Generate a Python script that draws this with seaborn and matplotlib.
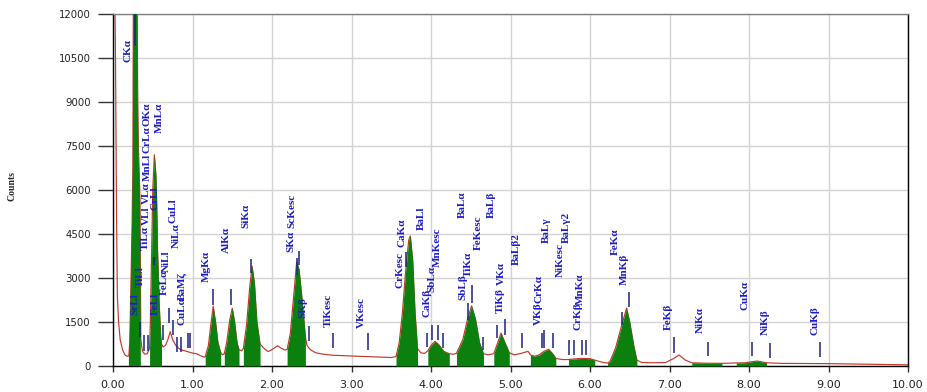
import numpy as np
import matplotlib
matplotlib.use("Agg")
import matplotlib.pyplot as plt
import seaborn as sns

# EDS spectrum: energy (keV) and counts
energy_kev = [
    0.00, 0.02, 0.03, 0.045, 0.055, 0.07, 0.09, 0.12, 0.15, 0.18,
    0.20, 0.21, 0.22, 0.23, 0.24, 0.25, 0.255, 0.26, 0.28, 0.30,
    0.305, 0.31, 0.32, 0.33, 0.34, 0.345, 0.35, 0.37, 0.40, 0.43,
    0.46, 0.47, 0.48, 0.49, 0.50, 0.52, 0.54, 0.55, 0.56, 0.58,
    0.60, 0.61, 0.63, 0.66, 0.69, 0.72, 0.75, 0.79, 0.82, 0.85,
    0.90, 0.95, 1.00, 1.05, 1.10, 1.15, 1.16, 1.20, 1.23, 1.26,
    1.29, 1.32, 1.355, 1.38, 1.40, 1.43, 1.47, 1.50, 1.53, 1.56,
    1.585, 1.62, 1.64, 1.68, 1.72, 1.75, 1.78, 1.81, 1.85, 1.90,
    1.95, 2.00, 2.07, 2.12, 2.16, 2.19, 2.23, 2.27, 2.31, 2.34,
    2.37, 2.40, 2.42, 2.44, 2.48, 2.55, 2.65, 2.75, 2.90, 3.00,
    3.20, 3.40, 3.50, 3.56, 3.60, 3.64, 3.68, 3.72, 3.74, 3.77,
    3.80, 3.83, 3.87, 3.92, 3.96, 4.00, 4.05, 4.10, 4.16, 4.23,
    4.28, 4.32, 4.40, 4.46, 4.51, 4.56, 4.61, 4.66, 4.72, 4.79,
    4.84, 4.88, 4.93, 4.985, 5.05, 5.12, 5.22, 5.25, 5.30, 5.36,
    5.42, 5.48, 5.53, 5.57, 5.65, 5.73, 5.80, 5.90, 6.00, 6.06,
    6.15, 6.22, 6.25, 6.32, 6.40, 6.46, 6.50, 6.55, 6.59, 6.65,
    6.80, 6.95, 7.05, 7.12, 7.20, 7.28, 7.45, 7.66, 7.80, 7.84,
    7.95, 8.10, 8.22, 8.40, 9.00, 9.50, 10.00,
]
counts = [
    13000, 13000, 11000, 5000, 2400, 1500, 900, 550, 380, 330,
    350, 800, 2000, 3500, 4800, 6800, 12200, 14000, 20000, 13500,
    12000, 9500, 7400, 6600, 5600, 3000, 900, 500, 400, 420,
    600, 1500, 3000, 4500, 6000, 7200, 6500, 5500, 4000, 2200,
    1000, 750, 650, 700, 900, 1170, 900, 700, 620, 560,
    520, 480, 440, 420, 350, 300, 320, 700, 1400, 2040,
    1500, 800, 450, 380, 420, 800, 1600, 1970, 1500, 800,
    550, 520, 600, 1400, 2700, 3400, 2800, 1500, 750, 600,
    490, 560, 690, 600, 545, 560, 1100, 2300, 3550, 3300,
    2500, 1600, 1000, 700, 560, 450, 400, 370, 350, 340,
    320, 300, 290, 320, 800, 1800, 3200, 4300, 4430, 3600,
    1800, 600, 450, 430, 520, 700, 840, 720, 500, 420,
    400, 430, 900, 1600, 2050, 1600, 800, 420, 380, 420,
    800, 1120, 800, 450, 380, 420, 500, 380, 330, 380,
    500, 570, 420, 260, 220, 220, 240, 260, 250, 200,
    130, 100, 150, 600, 1400, 1970, 1500, 700, 200, 120,
    110, 120, 250, 375, 200, 110, 95, 90, 100, 105,
    110, 170, 110, 90, 80, 60, 40,
]

# Integration windows (keV) shaded under the spectrum
roi_windows = [
    (0.20, 0.35), (0.46, 0.61), (1.16, 1.355), (1.40, 1.585), (1.64, 1.85),
    (2.19, 2.42), (3.56, 3.83), (3.96, 4.23), (4.32, 4.66), (4.79, 4.985),
    (5.25, 5.57), (5.73, 6.06), (6.22, 6.59), (7.28, 7.66), (7.84, 8.22),
]

# Line markers: energy (keV), lower and upper end (counts)
marker_energy = [
    0.277, 0.34, 0.39, 0.436, 0.51, 0.625, 0.705, 0.75, 0.81, 0.855,
    0.94, 0.97, 1.254, 1.487, 1.74, 2.31, 2.34, 2.46, 2.77, 3.21,
    3.69, 3.955, 4.01, 4.085, 4.145, 4.47, 4.51, 4.65, 4.83, 4.93,
    5.15, 5.40, 5.42, 5.53, 5.73, 5.80, 5.90, 5.95, 6.40, 6.49,
    7.06, 7.48, 8.04, 8.26, 8.89,
]
marker_low = [
    10900, 1000, 520, 520, 3440, 890, 1470, 1060, 490, 490,
    600, 600, 2080, 2080, 3160, 3100, 3440, 860, 600, 545,
    3390, 660, 890, 890, 610, 1570, 2150, 545, 955, 1060,
    610, 610, 610, 610, 375, 375, 375, 375, 1400, 2020,
    455, 340, 340, 275, 305,
]
marker_high = [
    12000, 1510, 1060, 1060, 3730, 1400, 1980, 1570, 1000, 1000,
    1115, 1115, 2615, 2615, 3650, 3670, 3920, 1365, 1115, 1115,
    3900, 1125, 1400, 1400, 1125, 2150, 2760, 1000, 1400, 1590,
    1125, 1125, 1230, 1125, 885, 885, 885, 885, 1850, 2530,
    980, 830, 830, 785, 830,
]

# Line identification labels: text, energy (keV), baseline (counts)
label_text = [
    "CKα", "SrLl", "TiLl", "TiLα", "VLl", "VLα", "MnLl", "CrLα", "OKα",
    "CrLl", "MnLα", "FeLl", "FeLα", "NiLl", "CuLl", "NiLα", "CuLα", "BaMζ",
    "MgKα", "AlKα", "SiKα", "SKα", "ScKesc", "SKβ", "TiKesc", "VKesc",
    "CrKesc", "CaKα", "BaLl", "CaKβ", "SbLα", "MnKesc", "SbLβ", "TiKα",
    "BaLα", "FeKesc", "BaLβ", "TiKβ", "VKα", "BaLβ2", "VKβ", "CrKα",
    "BaLγ", "NiKesc", "BaLγ2", "CrKβ", "MnKα", "FeKα", "MnKβ", "FeKβ",
    "NiKα", "CuKα", "NiKβ", "CuKβ",
]
label_energy = [
    0.192, 0.277, 0.348, 0.411, 0.415, 0.420, 0.428, 0.428, 0.428,
    0.528, 0.582, 0.537, 0.641, 0.667, 0.755, 0.801, 0.864, 0.868,
    1.179, 1.421, 1.673, 2.239, 2.245, 2.394, 2.708, 3.128,
    3.610, 3.631, 3.883, 3.945, 4.008, 4.079, 4.406, 4.469,
    4.400, 4.595, 4.764, 4.868, 4.881, 5.078, 5.349, 5.358,
    5.455, 5.623, 5.707, 5.853, 5.874, 6.314, 6.428, 6.985,
    7.393, 7.950, 8.201, 8.830,
]
label_counts = [
    10374, 1739, 2693, 3954, 4807, 5523, 6307, 7261, 8182,
    5318, 7943, 1739, 2420, 3204, 4875, 4023, 1398, 2250,
    2874, 3842, 4704, 3886, 4704, 1636, 1340, 1285,
    2659, 4057, 4636, 1681, 2533, 3385, 2250, 3044,
    5045, 3954, 5045, 1797, 2761, 3443, 1398, 2148,
    4193, 3044, 4183, 1227, 2080, 3784, 2761, 1227,
    1115, 1909, 1057, 1057,
]

x_ticks = [0, 1, 2, 3, 4, 5, 6, 7, 8, 9, 10]
x_tick_labels = ["0.00", "1.00", "2.00", "3.00", "4.00", "5.00",
                 "6.00", "7.00", "8.00", "9.00", "10.00"]
y_ticks = [0, 1500, 3000, 4500, 6000, 7500, 9000, 10500, 12000]

RED = "#c0392b"
GREEN = "#0c800e"
BLUE = "#1c1cc4"
NAVY = "#1a237e"

sns.set_style("white")
plt.rcParams["font.family"] = ["DejaVu Sans"]

fig = plt.figure(figsize=(9.27, 3.92), dpi=100)
ax = fig.add_axes([113 / 927, 26 / 392, 795 / 927, 352 / 392])

E = np.asarray(energy_kev)
C = np.asarray(counts)

sns.lineplot(x=E, y=C, ax=ax, color=RED, lw=0.85, sort=False, zorder=2)

for lo, hi in roi_windows:
    m = (E >= lo - 1e-9) & (E <= hi + 1e-9)
    ax.fill_between(E[m], 0, C[m], color=GREEN, lw=0, zorder=3)

ax.vlines(marker_energy, marker_low, marker_high, color=NAVY, lw=1.1, zorder=4)

for t, e, c in zip(label_text, label_energy, label_counts):
    ax.text(e, c, t, rotation=90, ha="center", va="bottom", fontsize=8,
            color=BLUE, family="Liberation Serif", fontweight="bold", zorder=5)

ax.set_xlim(0, 10)
ax.set_ylim(0, 12000)
ax.set_xticks(x_ticks)
ax.set_xticklabels(x_tick_labels)
ax.set_yticks(y_ticks)
ax.set_yticklabels([str(v) for v in y_ticks])
ax.grid(True, color="#d2d2d2", lw=1)
ax.set_axisbelow(True)
ax.set_xlabel("")
ax.set_ylabel("")

for side in ("left", "bottom", "right"):
    ax.spines[side].set_color("black")
    ax.spines[side].set_linewidth(1)
    ax.spines[side].set_visible(True)
ax.spines["top"].set_color("#808080")
ax.spines["top"].set_linewidth(1)
ax.spines["top"].set_visible(True)

ax.tick_params(axis="y", length=11, width=1, pad=5, labelsize=7.3,
               labelcolor="#222222", color="#333333", left=True)
ax.tick_params(axis="x", length=4, width=1, pad=6, labelsize=8,
               labelcolor="#222222", color="#333333", bottom=True)

fig.text(12 / 927, 1 - 186 / 392, "Counts", rotation=90, ha="center",
         va="center", fontsize=7, family="Liberation Serif", fontweight="bold")

fig.savefig("out.png", dpi=100, facecolor="white")
